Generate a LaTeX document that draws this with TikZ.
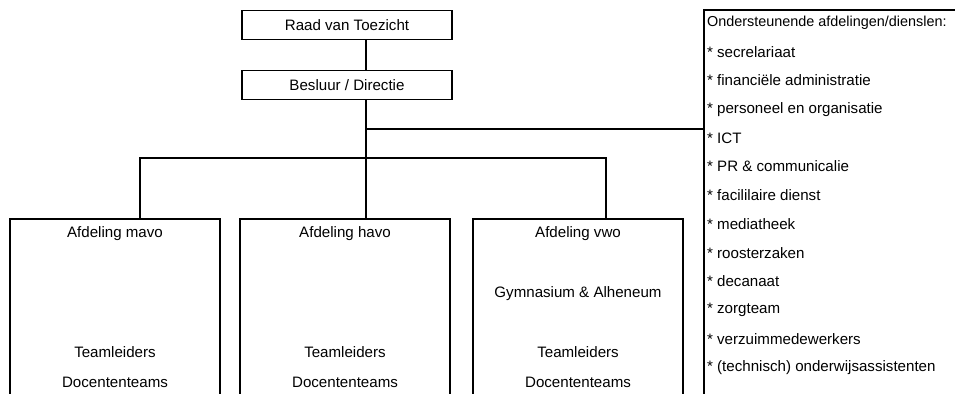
\documentclass[tikz,border=0pt]{standalone}
\usepackage{fontspec}
\setmainfont{Liberation Sans}
\usepackage{tikz}
\usetikzlibrary{positioning,calc}

\begin{document}
\begin{tikzpicture}[x=0.02cm,y=-0.02cm,
  lbl/.style={font=\fontsize{8.6}{10}\selectfont,inner sep=1pt},
  topbox/.style={draw,line width=1.1pt,minimum width=4.2cm,minimum height=0.58cm,inner sep=0pt,font=\fontsize{8.6}{10}\selectfont},
  dept/.style={draw,line width=1.1pt,minimum width=4.2cm,minimum height=5cm,anchor=north},
  link/.style={line width=1.1pt}]
\useasboundingbox (0,0) rectangle (955,393);
\clip (0,0) rectangle (955,393);
% top of the chart
\node[topbox] (raad) at (347,25) {Raad van Toezicht};
\node[topbox] (bestuur) at (347,85) {Besluur / Directie};
\coordinate (spine) at (366,0);
% departments
\node[dept] (mavo) at (115,218) {};
\node[dept] (havo) at (345,218) {};
\node[dept] (vwo) at (578,218) {};
\foreach \d/\x in {mavo/115,havo/345,vwo/578}{
  \node[lbl] (\d-head) at (\x,234) {Afdeling \d};
  \node[lbl] (\d-lead) at (\x,352) {Teamleiders};
  \node[lbl] (\d-team) at (\x,382) {Docententeams};}
\node[lbl] (vwo-sub) at (578,294) {Gymnasium \& Alheneum};
% support services
\draw[line width=1.1pt] (704,400) -- (704,10) -- (970,10);
\coordinate (support) at (704,129);
\node[lbl,anchor=west,font=\fontsize{8.2}{10}\selectfont] (s0) at (705,23) {Ondersteunende afdelingen/dienslen:};
\foreach \entry [count=\i] in {* secrelariaat,* financi\"ele administratie,
  * personeel en organisatie,* ICT,* PR \& communicalie,* facililaire dienst,
  * mediatheek,* roosterzaken,* decanaat,* zorgteam,* verzuimmedewerkers,
  * (technisch) onderwijsassistenten}
  \node[lbl,anchor=west] (s\i) at (705,{23+28.7*\i}) {\entry};
% connectors
\draw[link] (spine |- raad.south) -- (spine |- bestuur.north);
\draw[link] (spine |- bestuur.south) -- (spine |- havo.north);
\draw[link] (spine |- support) -- (support);
\draw[link] ($(mavo.north)+(25,0)$) |- (140,158) -- (606,158) -- ($(vwo.north)+(28,0)$);
\end{tikzpicture}
\end{document}
